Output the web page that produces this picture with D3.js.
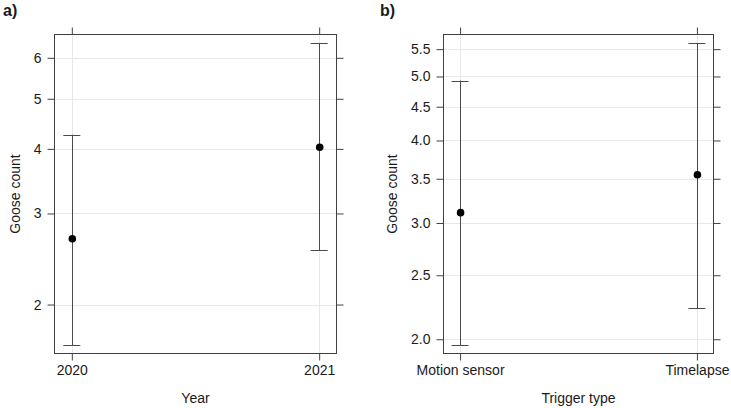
<!DOCTYPE html>
<html>
<head>
<meta charset="utf-8">
<script src="https://cdn.jsdelivr.net/npm/d3@7"></script>
<style>
  body { margin: 0; background: #fff; }
  text { font-family: "Liberation Sans", Arial, sans-serif; fill: #1a1a1a; }
</style>
</head>
<body>
<div id="chart"></div>
<script>
// panel a: by year
var yearCats = ["2020", "2021"];
var yearFit = [2.68, 4.03];
var yearLower = [1.67, 2.55];
var yearUpper = [4.26, 6.41];
var yearTicks = [2, 3, 4, 5, 6];

// panel b: by trigger type
var triggerCats = ["Motion sensor", "Timelapse"];
var triggerFit = [3.11, 3.55];
var triggerLower = [1.96, 2.23];
var triggerUpper = [4.93, 5.62];
var triggerTicks = [2.0, 2.5, 3.0, 3.5, 4.0, 4.5, 5.0, 5.5];

var width = 731, height = 408;

var svg = d3.select("#chart").append("svg")
    .attr("width", width)
    .attr("height", height);

var panels = [
  { tag: "a)", tagX: 3, left: 54.5, right: 336.5, cats: yearCats, fit: yearFit,
    lo: yearLower, hi: yearUpper, ticks: yearTicks, fmt: d3.format("d"),
    xlab: "Year", ylabX: 20 },
  { tag: "b)", tagX: 380, left: 443.5, right: 713.5, cats: triggerCats, fit: triggerFit,
    lo: triggerLower, hi: triggerUpper, ticks: triggerTicks, fmt: d3.format(".1f"),
    xlab: "Trigger type", ylabX: 397 }
];

var boxTop = 34.5, boxBottom = 353.5, tick = 7, fs = 14;

panels.forEach(function(p) {
  var g = svg.append("g");

  var x = d3.scalePoint().domain(p.cats).range([p.left, p.right]).padding(0.07);

  var lmin = Math.log(d3.min(p.lo)), lmax = Math.log(d3.max(p.hi));
  var pad = (lmax - lmin) * 0.028;
  var y = d3.scaleLog()
      .domain([Math.exp(lmin - pad), Math.exp(lmax + pad)])
      .range([boxBottom, boxTop]);

  // grid
  g.selectAll(".hgrid").data(p.ticks).enter().append("line")
      .attr("x1", p.left).attr("x2", p.right)
      .attr("y1", function(d) { return Math.round(y(d)) + 0.5; })
      .attr("y2", function(d) { return Math.round(y(d)) + 0.5; })
      .attr("stroke", "#e8e8e8");
  g.selectAll(".vgrid").data(p.cats).enter().append("line")
      .attr("x1", function(d) { return Math.round(x(d)) + 0.5; })
      .attr("x2", function(d) { return Math.round(x(d)) + 0.5; })
      .attr("y1", boxTop).attr("y2", boxBottom)
      .attr("stroke", "#e8e8e8");

  // axes
  var yl = g.append("g").attr("transform", "translate(" + p.left + ",0)")
      .call(d3.axisLeft(y).tickValues(p.ticks).tickFormat(p.fmt).tickSize(tick).tickSizeOuter(0).tickPadding(6));
  var yr = g.append("g").attr("transform", "translate(" + p.right + ",0)")
      .call(d3.axisRight(y).tickValues(p.ticks).tickFormat("").tickSize(tick).tickSizeOuter(0));
  var xt = g.append("g").attr("transform", "translate(0," + boxTop + ")")
      .call(d3.axisTop(x).tickFormat("").tickSize(tick).tickSizeOuter(0));
  var xb = g.append("g").attr("transform", "translate(0," + boxBottom + ")")
      .call(d3.axisBottom(x).tickSize(tick).tickSizeOuter(0).tickPadding(5));

  [yl, yr, xt, xb].forEach(function(a) {
    a.select(".domain").remove();
    a.selectAll(".tick line").attr("stroke", "#404040");
    a.selectAll(".tick text").attr("font-size", fs)
        .attr("font-family", "Liberation Sans, Arial, sans-serif").attr("fill", "#1a1a1a");
  });

  // box
  g.append("rect")
      .attr("x", p.left).attr("y", boxTop)
      .attr("width", p.right - p.left).attr("height", boxBottom - boxTop)
      .attr("fill", "none").attr("stroke", "#404040");

  // error bars
  var rows = p.cats.map(function(c, i) {
    return { cat: c, fit: p.fit[i], lo: p.lo[i], hi: p.hi[i] };
  });
  var bars = g.selectAll(".bar").data(rows).enter().append("g");
  bars.append("line")
      .attr("x1", function(d) { return Math.round(x(d.cat)) + 0.5; })
      .attr("x2", function(d) { return Math.round(x(d.cat)) + 0.5; })
      .attr("y1", function(d) { return y(d.lo); })
      .attr("y2", function(d) { return y(d.hi); })
      .attr("stroke", "#4a4a4a");
  bars.selectAll(".cap").data(function(d) { return [d.lo, d.hi].map(function(v) { return { cat: d.cat, v: v }; }); })
    .enter().append("line")
      .attr("x1", function(d) { return x(d.cat) - 8.5; })
      .attr("x2", function(d) { return x(d.cat) + 8.5; })
      .attr("y1", function(d) { return Math.round(y(d.v)) + 0.5; })
      .attr("y2", function(d) { return Math.round(y(d.v)) + 0.5; })
      .attr("stroke", "#4a4a4a");
  bars.append("circle")
      .attr("cx", function(d) { return x(d.cat) + 0.5; })
      .attr("cy", function(d) { return y(d.fit); })
      .attr("r", 3.8)
      .attr("fill", "#000");

  // labels
  g.append("text")
      .attr("x", (p.left + p.right) / 2).attr("y", 403)
      .attr("text-anchor", "middle").attr("font-size", fs)
      .text(p.xlab);
  g.append("text")
      .attr("transform", "translate(" + p.ylabX + "," + ((boxTop + boxBottom) / 2) + ") rotate(-90)")
      .attr("text-anchor", "middle").attr("font-size", fs)
      .text("Goose count");
  g.append("text")
      .attr("x", p.tagX).attr("y", 16)
      .attr("font-size", 16).attr("font-weight", "bold")
      .text(p.tag);
});
</script>
</body>
</html>
